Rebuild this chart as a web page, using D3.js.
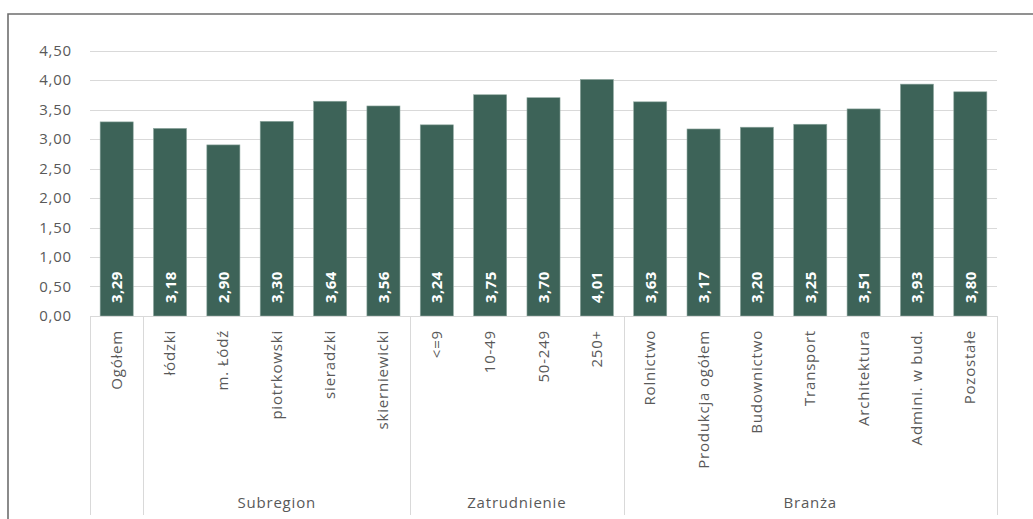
<!DOCTYPE html>
<html>
<head>
<meta charset="utf-8">
<title>Ocena</title>
<style>
  body { margin: 0; background: #fff; }
  svg text { font-family: "Open Sans", sans-serif; fill: #595959; }
  .grid line { stroke: #d9d9d9; stroke-width: 1; }
  .bar { fill: #3d6358; stroke: #8fa8a0; stroke-width: 0.6; }
  .val { fill: #fff; font-weight: bold; letter-spacing: 0.4px; }
  .lbl { font-size: 15px; letter-spacing: 0.8px; }
</style>
</head>
<body>
<svg width="1033" height="519"></svg>
<script src="https://d3js.org/d3.v7.min.js"></script>
<script>
// data
var categories = ["Ogółem", "łódzki", "m. Łódź", "piotrkowski", "sieradzki", "skierniewicki",
  "<=9", "10-49", "50-249", "250+",
  "Rolnictwo", "Produkcja ogółem", "Budownictwo", "Transport", "Architektura", "Admini. w bud.", "Pozostałe"];
var values = [3.29, 3.18, 2.90, 3.30, 3.64, 3.56, 3.24, 3.75, 3.70, 4.01, 3.63, 3.17, 3.20, 3.25, 3.51, 3.93, 3.80];
var groupNames = ["", "Subregion", "Zatrudnienie", "Branża"];
var groupSizes = [1, 5, 4, 7];
var yTicks = [0, 0.5, 1, 1.5, 2, 2.5, 3, 3.5, 4, 4.5];

var svg = d3.select("svg");
var m = { left: 90, right: 997, top: 50.5, bottom: 316 };

var x = d3.scaleBand().domain(d3.range(categories.length)).range([m.left, m.right]).padding(0);
var y = d3.scaleLinear().domain([0, 4.5]).range([m.bottom, m.top]);
var fmt = function(v) { return d3.format(".2f")(v).replace(".", ","); };

// ramka
svg.append("path")
  .attr("d", "M8,519 L8,14 L1033,14")
  .attr("fill", "none").attr("stroke", "#6e6e6e").attr("stroke-width", 1.6);

// siatka
var grid = svg.append("g").attr("class", "grid");
grid.selectAll("line").data(yTicks).enter().append("line")
  .attr("x1", m.left).attr("x2", m.right)
  .attr("y1", function(d) { return Math.round(y(d)) + 0.5; })
  .attr("y2", function(d) { return Math.round(y(d)) + 0.5; });

// oś y
var yAxis = svg.append("g")
  .attr("transform", "translate(" + m.left + ",0)")
  .call(d3.axisLeft(y).tickValues(yTicks).tickFormat(fmt).tickSize(0).tickPadding(18));
yAxis.select(".domain").remove();
yAxis.selectAll("text").attr("class", "lbl").attr("fill", "#595959")
  .style("font-family", "Open Sans").style("font-size", "15px");

// słupki
var bw = x.bandwidth() * 0.62;
svg.selectAll(".bar").data(values).enter().append("rect")
  .attr("class", "bar")
  .attr("x", function(d, i) { return x(i) + (x.bandwidth() - bw) / 2; })
  .attr("y", function(d) { return y(d); })
  .attr("width", bw)
  .attr("height", function(d) { return y(0) - y(d); });

// etykiety wartości
svg.selectAll(".val").data(values).enter().append("text")
  .attr("class", "val")
  .attr("transform", function(d, i) {
    return "translate(" + (x(i) + x.bandwidth() / 2 + 5.5) + "," + (y(0) - 13) + ") rotate(-90)";
  })
  .style("font-size", "15px")
  .text(fmt);

// oś x - linia
svg.append("line").attr("x1", m.left).attr("x2", m.right)
  .attr("y1", m.bottom + 0.5).attr("y2", m.bottom + 0.5)
  .attr("stroke", "#d9d9d9");

// etykiety kategorii
svg.selectAll(".cat").data(categories).enter().append("text")
  .attr("class", "cat lbl")
  .attr("text-anchor", "end")
  .attr("transform", function(d, i) {
    return "translate(" + (x(i) + x.bandwidth() / 2 + 5) + "," + (m.bottom + 14) + ") rotate(-90)";
  })
  .text(function(d) { return d; });

// grupy
var bounds = [0];
groupSizes.forEach(function(s, i) { bounds.push(bounds[i] + s); });
var bx = function(b) { return b === categories.length ? m.right : x(b); };
svg.selectAll(".sep").data(bounds).enter().append("line")
  .attr("x1", function(b) { return Math.round(bx(b)) + 0.5; })
  .attr("x2", function(b) { return Math.round(bx(b)) + 0.5; })
  .attr("y1", m.bottom).attr("y2", 515)
  .attr("stroke", "#d9d9d9");

svg.selectAll(".grp").data(groupNames).enter().append("text")
  .attr("class", "grp lbl")
  .attr("text-anchor", "middle")
  .attr("x", function(d, i) { return (bx(bounds[i]) + bx(bounds[i + 1])) / 2; })
  .attr("y", 508)
  .text(function(d) { return d; });
</script>
</body>
</html>
